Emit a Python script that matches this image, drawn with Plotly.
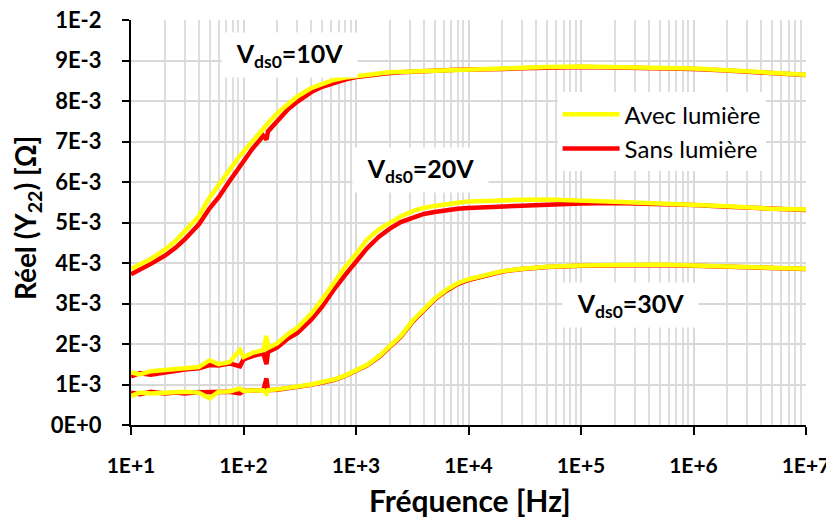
import plotly.graph_objects as go

# Frequencies (Hz)
freq = [10, 12, 15, 20, 25, 30, 40, 50, 60, 75, 93, 100, 120, 150, 160, 165, 200, 250,
        300, 400, 500, 630, 800, 1000, 1250, 1600, 2000, 2500, 3200, 4000, 5000, 6300,
        8000, 10000, 15000, 20000, 30000, 50000, 1e5, 2e5, 5e5, 1e6, 2e6, 5e6, 1e7]

# Values in units of 1E-3
v10_avec = [3.85, 3.95, 4.10, 4.33, 4.55, 4.78, 5.15, 5.62, 5.92, 6.33, 6.65, 6.75, 7.02, 7.33,
            7.42, 7.45, 7.70, 7.94, 8.11, 8.32, 8.43, 8.52, 8.58, 8.62, 8.65, 8.68, 8.71, 8.72,
            8.74, 8.75, 8.76, 8.77, 8.77, 8.78, 8.79, 8.80, 8.82, 8.84, 8.85, 8.84, 8.82, 8.80,
            8.76, 8.71, 8.65]
v10_sans = [3.72, 3.85, 3.98, 4.18, 4.38, 4.58, 4.95, 5.35, 5.62, 6.02, 6.40, 6.52, 6.82, 7.14,
            7.05, 7.25, 7.52, 7.80, 7.98, 8.22, 8.35, 8.45, 8.53, 8.59, 8.63, 8.66, 8.69, 8.71,
            8.73, 8.74, 8.75, 8.76, 8.77, 8.77, 8.78, 8.79, 8.81, 8.83, 8.84, 8.83, 8.81, 8.79,
            8.75, 8.70, 8.64]
v20_avec = [1.30, 1.25, 1.33, 1.35, 1.38, 1.40, 1.43, 1.60, 1.50, 1.55, 1.85, 1.68, 1.78, 1.85,
            2.20, 1.90, 2.02, 2.25, 2.40, 2.75, 3.10, 3.50, 3.90, 4.22, 4.57, 4.83, 5.00, 5.15,
            5.28, 5.36, 5.41, 5.46, 5.49, 5.52, 5.54, 5.55, 5.56, 5.57, 5.55, 5.51, 5.47, 5.44,
            5.40, 5.34, 5.32]
v20_sans = [1.20, 1.28, 1.24, 1.30, 1.34, 1.37, 1.40, 1.48, 1.47, 1.52, 1.45, 1.62, 1.70, 1.77,
            1.50, 1.80, 1.92, 2.14, 2.27, 2.60, 2.92, 3.33, 3.70, 4.02, 4.36, 4.65, 4.85, 5.01,
            5.13, 5.21, 5.26, 5.31, 5.34, 5.36, 5.38, 5.40, 5.43, 5.46, 5.47, 5.48, 5.46, 5.43,
            5.39, 5.33, 5.31]
v30_avec = [0.72, 0.80, 0.78, 0.80, 0.79, 0.82, 0.80, 0.66, 0.82, 0.83, 0.90, 0.84, 0.85, 0.86,
            0.78, 0.86, 0.88, 0.91, 0.94, 1.00, 1.06, 1.12, 1.22, 1.34, 1.48, 1.70, 1.95, 2.20,
            2.58, 2.85, 3.12, 3.33, 3.50, 3.60, 3.72, 3.80, 3.86, 3.91, 3.94, 3.96, 3.96, 3.94,
            3.91, 3.88, 3.86]
v30_sans = [0.80, 0.76, 0.82, 0.78, 0.80, 0.78, 0.81, 0.82, 0.82, 0.82, 0.78, 0.84, 0.85, 0.86,
            1.15, 0.86, 0.87, 0.90, 0.93, 0.99, 1.05, 1.11, 1.21, 1.33, 1.47, 1.68, 1.93, 2.18,
            2.56, 2.83, 3.10, 3.31, 3.48, 3.58, 3.71, 3.79, 3.85, 3.90, 3.93, 3.95, 3.95, 3.93,
            3.90, 3.87, 3.85]

x_tickvals = [1e1, 1e2, 1e3, 1e4, 1e5, 1e6, 1e7]
x_ticktext = ["1E+1", "1E+2", "1E+3", "1E+4", "1E+5", "1E+6", "1E+7"]
y_tickvals = [0, 0.001, 0.002, 0.003, 0.004, 0.005, 0.006, 0.007, 0.008, 0.009, 0.01]
y_ticktext = ["0E+0", "1E-3", "2E-3", "3E-3", "4E-3", "5E-3", "6E-3", "7E-3", "8E-3", "9E-3", "1E-2"]

labels = [("V<sub>ds0</sub>=10V", 2.413, 9.14e-3),
          ("V<sub>ds0</sub>=20V", 3.569, 6.30e-3),
          ("V<sub>ds0</sub>=30V", 5.436, 2.96e-3)]

x_title = "Fréquence [Hz]"
y_title = "Réel (Y<sub>22</sub>) [Ω]"

YELLOW = "#FFFF00"
RED = "#FF0000"
FONT = "Lato"

def scale(v):
    return [a * 1e-3 for a in v]

fig = go.Figure()
series = [(v10_sans, v10_avec), (v20_sans, v20_avec), (v30_sans, v30_avec)]
for i, (sans, avec) in enumerate(series):
    fig.add_trace(go.Scatter(x=freq, y=scale(sans), mode="lines", line=dict(color=RED, width=4.5),
                             name="Sans lumière", legendgroup="sans", showlegend=(i == 0),
                             legendrank=2))
    fig.add_trace(go.Scatter(x=freq, y=scale(avec), mode="lines", line=dict(color=YELLOW, width=4.5),
                             name="Avec lumière", legendgroup="avec", showlegend=(i == 0),
                             legendrank=1))

for text, lx, ly in labels:
    fig.add_annotation(x=lx, y=ly, xref="x", yref="y", text=text, showarrow=False,
                       font=dict(family=FONT, size=25, color="black", weight="bold"),
                       bgcolor="white", width=135, height=44, borderpad=0)

fig.add_annotation(x=0.502, y=-0.185, xref="paper", yref="paper", text=x_title,
                   showarrow=False, xanchor="center", yanchor="middle",
                   font=dict(family=FONT, size=30, color="black", weight="bold"))
fig.add_annotation(x=-0.154, y=0.511, xref="paper", yref="paper", text=y_title,
                   showarrow=False, xanchor="center", yanchor="middle", textangle=-90,
                   font=dict(family=FONT, size=28, color="black", weight="bold"))

fig.update_layout(
    width=826, height=513,
    margin=dict(l=123, r=28, t=12, b=96, autoexpand=False),
    paper_bgcolor="white", plot_bgcolor="white",
    font=dict(family=FONT, color="black"),
    showlegend=True,
    legend=dict(x=0.632, y=0.822, xanchor="left", yanchor="top", bgcolor="white",
                font=dict(family=FONT, size=24, color="black"),
                itemwidth=57, tracegroupgap=0, borderwidth=0),
    xaxis=dict(type="log", range=[1, 7], tickmode="array", tickvals=x_tickvals,
               ticktext=x_ticktext, showgrid=True, gridcolor="#d9d9d9", gridwidth=2,
               minor=dict(dtick="D1", showgrid=True, gridcolor="#dedede", gridwidth=1.5, ticks=""),
               showline=True, linecolor="black", linewidth=2, ticks="outside", ticklen=8,
               tickwidth=2, tickcolor="black", ticklabelstandoff=13, automargin=False,
               ticklabeloverflow="allow",
               tickfont=dict(family=FONT, size=21, color="black", weight="bold"),
               zeroline=False),
    yaxis=dict(range=[0, 0.01], tickmode="array", tickvals=y_tickvals, ticktext=y_ticktext,
               showgrid=True, gridcolor="#d9d9d9", gridwidth=2,
               showline=True, linecolor="black", linewidth=2, ticks="outside", ticklen=7,
               tickwidth=2, tickcolor="black", ticklabelstandoff=16, automargin=False,
               ticklabeloverflow="allow",
               tickfont=dict(family=FONT, size=22, color="black", weight="bold"),
               zeroline=False),
)

fig.write_html("out.html")
